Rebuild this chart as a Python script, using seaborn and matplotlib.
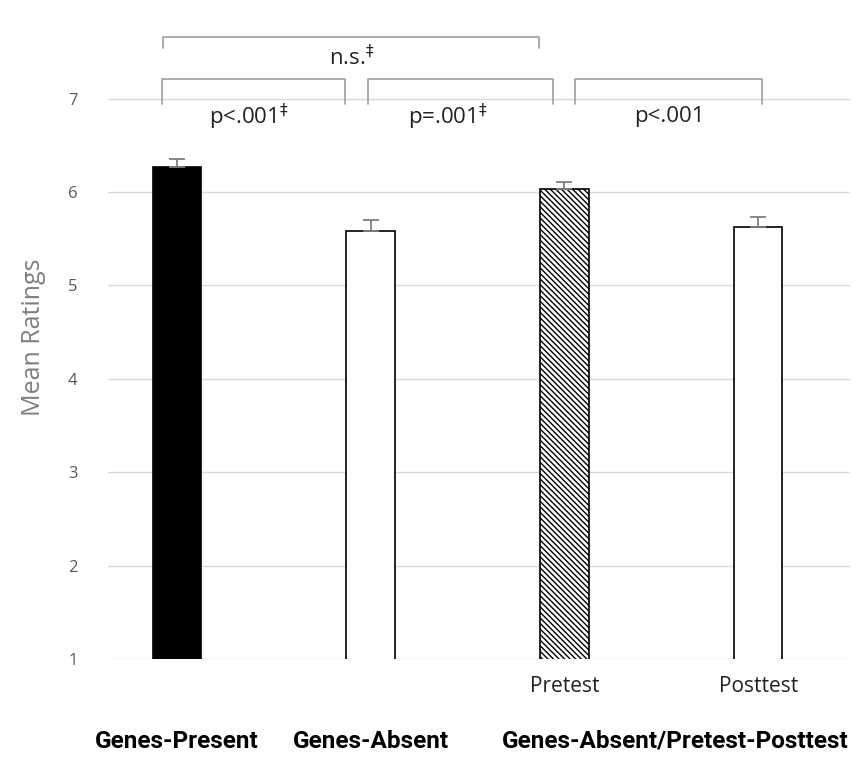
import seaborn as sns
import pandas as pd
import numpy as np
import matplotlib.pyplot as plt

# data
conditions = ["Genes-Present", "Genes-Absent", "Pretest", "Posttest"]
means = [6.27, 5.58, 6.03, 5.63]
errors = [0.08, 0.12, 0.08, 0.10]
tick_labels = ["", "", "Pretest", "Posttest"]
group_labels = ["Genes-Present", "Genes-Absent", "Genes-Absent/Pretest-Posttest"]
fills = ["black", "white", "white", "white"]

df = pd.DataFrame({"cond": conditions, "mean": means, "err": errors})

sns.set_style("white")
plt.rcParams["font.family"] = ["Open Sans", "DejaVu Sans"]

fig = plt.figure(figsize=(8.66, 7.58), dpi=100)
ax = fig.add_axes([0.1247, 0.1306, 0.8568, 0.85])

sns.barplot(data=df, x="cond", y="mean", hue="cond", palette=fills, legend=False,
            width=0.25, edgecolor="black", linewidth=1.2, ax=ax, errorbar=None)
ax.patches[2].set_hatch("\\\\\\\\\\\\")
ax.errorbar(range(len(means)), means, yerr=[np.zeros(len(errors)), errors], fmt="none",
            ecolor="#7f7f7f", elinewidth=1.3, capsize=6, capthick=1.3, zorder=3)

ax.set_ylim(1, 7.9)
ax.set_xlim(-0.356, 3.474)
ax.set_yticks(range(1, 8))
ax.yaxis.grid(True, color="#d9d9d9", linewidth=1)
ax.set_axisbelow(True)
for s in ax.spines.values():
    s.set_visible(False)
ax.tick_params(axis="y", colors="#595959", labelsize=12, length=0, pad=22)
ax.set_xticks(range(len(tick_labels)))
ax.set_xticklabels(tick_labels, fontsize=15, color="#222222")
ax.tick_params(axis="x", length=0, pad=12)
ax.set_xlabel("")
ax.set_ylabel("Mean Ratings", fontsize=18, color="#7f7f7f", labelpad=16)

# significance brackets
bc = "#a6a6a6"
def bracket(x0, x1, ytop, ybot):
    ax.plot([x0, x0, x1, x1], [ybot, ytop, ytop, ybot], color=bc, lw=1.3,
            clip_on=False, solid_joinstyle="round")

txt = dict(ha="center", va="center", fontsize=16, color="#222222")
bracket(-0.07, 1.87, 7.66, 7.54)
ax.text(0.90, 7.44, "n.s.$^{\u2021}$", **txt)
bracket(-0.075, 0.866, 7.21, 6.94)
bracket(0.985, 1.94, 7.21, 6.94)
bracket(2.057, 3.02, 7.21, 6.94)
ax.text(0.37, 6.81, "p<.001$^{\u2021}$", **txt)
ax.text(1.40, 6.81, "p=.001$^{\u2021}$", **txt)
ax.text(2.54, 6.81, "p<.001", **txt)

# group labels under the axis
for x, lab in zip([0, 1, 2.57], group_labels):
    ax.text(x, -0.128, lab, transform=ax.get_xaxis_transform(), ha="center", va="center",
            fontsize=17.5, fontweight="bold", color="black", family=["Roboto", "DejaVu Sans"])

fig.savefig("out.png", dpi=100)
